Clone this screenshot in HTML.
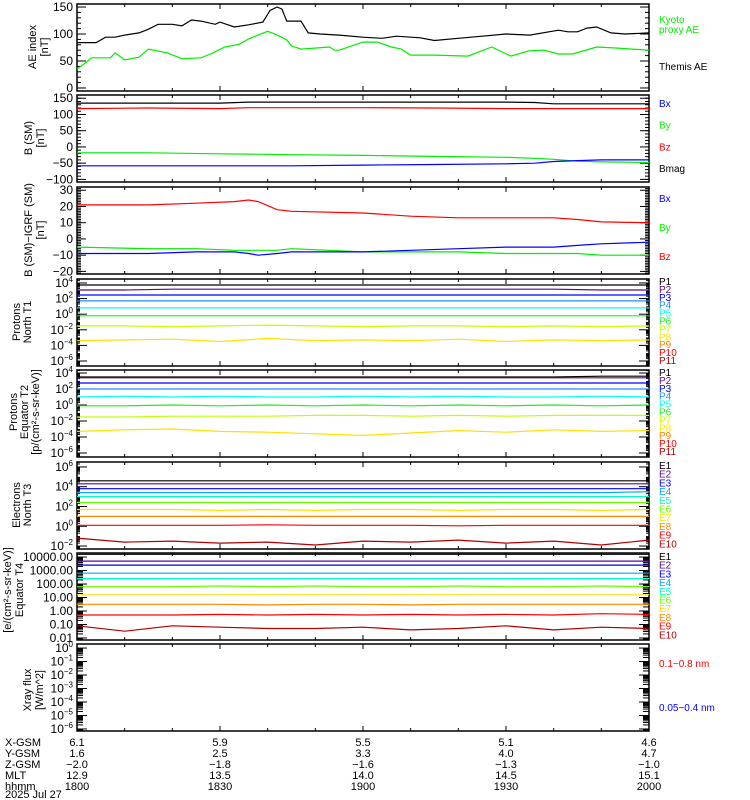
<!DOCTYPE html>
<html><head><meta charset="utf-8"><style>
html,body{margin:0;padding:0;background:#fff;}
svg{display:block;font-family:"Liberation Sans",sans-serif;}
</style></head><body>
<svg id="chart" width="750" height="800" viewBox="0 0 750 800" xmlns="http://www.w3.org/2000/svg"></svg>
<script>
// ---------- DATA ----------
const aeTimes = [0,4,6,8,10,13,15,17,20,22,24,26,29,30,33,36,39,40.5,42,43,44,47,48.5,51,55,60,64,67,72,75,80,85,90,95,101,103,105,107,109,112,115,120];
const themisAE = [84,84,94,94,98,102,109,118,118,115,126,124,118,122,113,117,122,144,150,146,124,124,102,100,98,94,92,96,93,88,92,96,100,98,107,104,104,111,113,102,100,102];
const kyotoTimes = [0,2,3,7,8,10,13,15,19,22,26,28,31,34,36,38,40,42,44,45,47,53,54,55,60,63,66,68,70,75,82,87,91,95,98,101,104,109,113,120];
const kyotoAE = [35,48,56,56,65,52,57,72,65,54,56,63,76,81,91,98,105,98,89,78,72,76,70,70,85,85,76,72,61,61,59,76,59,69,70,63,63,76,74,70];

const bTimes = [0,15,30,36,45,60,75,90,96,100,105,110,120];
const bmag = [135,135,135,138,138,138,138,138,137,133,133,133,133];
const bzSM = [118,120,118,121,121,121,120,118,118,118,118,118,118];
const bySM = [-18,-18,-21,-22,-24,-26,-29,-32,-35,-38,-44,-46,-48];
const bxSM = [-58,-58,-58,-58,-58,-56,-54,-52,-50,-45,-42,-40,-40];

const dbTimes = [0,15,25,33,36,38,42,45,60,70,80,90,100,105,110,120];
const dbz = [21,21,22,23,24,23,18,17,16,14,13,13,13,12,10.5,10];
const dby = [-5,-6,-6,-7,-7,-7,-7,-6,-8,-8,-8,-9,-9,-9,-10,-10];
const dbx = [-9,-9,-8,-8,-9,-10,-9,-8,-8,-7,-6,-5,-5,-4,-3,-2];

const specTimes = [0,10,20,30,40,50,60,70,80,90,100,110,120];
const pN = [
 [3.74,3.74,3.74,3.74,3.74,3.74,3.74,3.74,3.74,3.74,3.74,3.74,3.74],
 [3.1,3.1,3.2,3.2,3.2,3.2,3.2,3.2,3.2,3.2,3.2,3.1,3.1],
 [2.46,2.46,2.46,2.46,2.46,2.46,2.46,2.46,2.46,2.46,2.46,2.46,2.46],
 [1.7,1.7,1.7,1.7,1.7,1.7,1.7,1.7,1.7,1.7,1.7,1.7,1.7],
 [0.8,0.8,0.8,0.8,0.8,0.8,0.8,0.8,0.8,0.8,0.8,0.8,0.8],
 [-0.2,-0.2,-0.2,-0.2,-0.2,-0.2,-0.2,-0.2,-0.2,-0.2,-0.2,-0.2,-0.2],
 [-1.5,-1.5,-1.6,-1.5,-1.4,-1.5,-1.6,-1.5,-1.5,-1.6,-1.5,-1.6,-1.5],
 [-3.4,-3.3,-3.2,-3.5,-3.1,-3.4,-3.3,-3.4,-3.2,-3.5,-3.3,-3.4,-3.3],
 null,null,null];
const pE = [
 [3.5,3.5,3.5,3.5,3.5,3.5,3.5,3.5,3.5,3.5,3.5,3.6,3.6],
 [3.4,3.4,3.4,3.4,3.4,3.4,3.4,3.4,3.4,3.4,3.4,3.4,3.4],
 [2.75,2.75,2.75,2.75,2.75,2.75,2.75,2.75,2.75,2.75,2.75,2.75,2.75],
 [2.0,2.0,2.0,2.0,2.0,2.0,2.0,2.0,2.0,2.0,2.0,2.0,2.0],
 [1.0,1.1,1.0,1.1,1.0,1.0,1.1,1.0,1.1,1.0,1.0,1.1,1.0],
 [-0.1,-0.1,0,-0.1,0,-0.1,0,-0.1,0,-0.1,0,-0.1,0],
 [-1.5,-1.5,-1.4,-1.4,-1.4,-1.3,-1.3,-1.4,-1.3,-1.4,-1.3,-1.3,-1.3],
 [-3.3,-3.1,-3.0,-3.3,-3.4,-3.6,-3.8,-3.5,-3.2,-3.4,-3.1,-3.3,-3.2],
 null,null,null];
const eN = [
 [4.6,4.6,4.6,4.6,4.6,4.6,4.6,4.6,4.6,4.6,4.6,4.6,4.6],
 [4.3,4.3,4.3,4.3,4.3,4.3,4.3,4.3,4.3,4.3,4.3,4.3,4.3],
 [3.8,3.8,3.8,3.8,3.8,3.8,3.8,3.8,3.8,3.8,3.8,3.8,3.8],
 [3.4,3.4,3.4,3.4,3.4,3.4,3.4,3.4,3.4,3.4,3.4,3.4,3.5],
 [3.0,3.0,3.0,3.0,3.0,3.0,3.0,3.0,3.0,3.0,3.0,3.0,3.0],
 [2.4,2.4,2.4,2.4,2.4,2.4,2.4,2.4,2.4,2.4,2.4,2.4,2.4],
 [1.7,1.7,1.7,1.6,1.7,1.6,1.7,1.7,1.6,1.7,1.7,1.6,1.7],
 [1.0,1.0,1.0,1.0,1.0,1.0,1.0,1.0,1.0,1.0,1.0,1.0,1.0],
 [0.1,0.1,0.1,0.1,0.15,0.1,0.1,0.1,0.05,0.1,0.1,0.1,0.1],
 [-1.2,-1.6,-1.5,-1.7,-1.6,-1.9,-1.5,-1.6,-1.4,-1.7,-1.5,-1.9,-1.4]];
const eE = [
 [4.2,4.2,4.2,4.2,4.2,4.2,4.2,4.2,4.2,4.2,4.2,4.2,4.2],
 [3.7,3.7,3.7,3.7,3.7,3.7,3.7,3.7,3.7,3.7,3.7,3.7,3.7],
 [3.4,3.4,3.4,3.4,3.4,3.4,3.4,3.4,3.4,3.4,3.4,3.4,3.4],
 [2.8,2.8,2.8,2.8,2.8,2.8,2.8,2.8,2.8,2.8,2.8,2.8,2.8],
 [2.4,2.4,2.4,2.4,2.4,2.4,2.4,2.4,2.4,2.4,2.4,2.4,2.4],
 [1.8,1.8,1.8,1.85,1.8,1.85,1.8,1.8,1.85,1.8,1.8,1.85,1.8],
 [1.2,1.2,1.2,1.2,1.2,1.2,1.2,1.2,1.2,1.2,1.2,1.2,1.2],
 [0.5,0.5,0.5,0.5,0.45,0.5,0.5,0.45,0.5,0.5,0.5,0.5,0.5],
 [-0.3,-0.3,-0.3,-0.25,-0.3,-0.25,-0.3,-0.25,-0.3,-0.25,-0.3,-0.2,-0.25],
 [-1.1,-1.5,-1.1,-1.2,-1.3,-1.3,-1.2,-1.4,-1.3,-1.1,-1.4,-1.2,-1.3]];

const pColors = ["#000000","#5a0a8c","#0000ff","#1e90ff","#00ffff","#22ee22","#c0ff00","#ffe000","#ff8800","#ff0000","#b00000"];
const eColors = ["#000000","#5a0a8c","#0000ff","#00a8ff","#00ffc0","#66ff00","#ffe000","#ff8800","#ff0000","#b00000"];

const orbitLabels = ["X-GSM","Y-GSM","Z-GSM","MLT","hhmm"];
const orbitValues = [
 ["6.1","5.9","5.5","5.1","4.6"],
 ["1.6","2.5","3.3","4.0","4.7"],
 ["\u22122.0","\u22121.8","\u22121.6","\u22121.3","\u22121.0"],
 ["12.9","13.5","14.0","14.5","15.1"],
 ["1800","1830","1900","1930","2000"]];
const orbitTimes = [0,30,60,90,120];

// ---------- DRAWING ----------
const svg = document.getElementById('chart');
const NS = "http://www.w3.org/2000/svg";
const X0 = 77, X1 = 649;
function xs(t){ return X0 + (X1 - X0) * t / 120; }
function mk(tag, attrs, parent){
  const e = document.createElementNS(NS, tag);
  for (const k in attrs) e.setAttribute(k, attrs[k]);
  (parent || svg).appendChild(e);
  return e;
}
function txt(s, x, y, opts, parent){
  const e = mk('text', Object.assign({x:x, y:y, 'font-size':11, fill:'#000'}, opts||{}), parent);
  e.textContent = s;
  return e;
}
function panel(name, top, h, lo, hi){
  const g = mk('g', {});
  
  
  const ys = v => top + (hi - v) / (hi - lo) * h;
  mk('rect', {x:X0, y:top, width:X1-X0, height:h, fill:'none', stroke:'#000', 'stroke-width':1.5}, g);
  for (let m = 10; m < 120; m += 10){
    const L = (m % 30 === 0) ? 5 : 3;
    mk('line', {x1:xs(m), x2:xs(m), y1:top, y2:top+L, stroke:'#000'}, g);
    mk('line', {x1:xs(m), x2:xs(m), y1:top+h, y2:top+h-L, stroke:'#000'}, g);
  }
  return {g, ys, top, h, lo, hi};
}
function ytick(P, v, len){
  const y = P.ys(v);
  if (y < P.top || y > P.top + P.h) return;
  mk('line', {x1:X0, x2:X0+len, y1:y, y2:y, stroke:'#000'}, P.g);
  mk('line', {x1:X1, x2:X1-len, y1:y, y2:y, stroke:'#000'}, P.g);
}
function series(P, times, vals, color, name){
  const pts = times.map((t,i) => xs(t).toFixed(1) + ',' + P.ys(vals[i]).toFixed(1)).join(' ');
  const pl = mk('polyline', {points:pts, fill:'none', stroke:color, 'stroke-width':1.2}, P.g);
  
  
}
function ylabel(P, val, s, sup){
  const t = txt(s, X0-4, P.ys(val)+4, {'text-anchor':'end', 'font-size':12}, P.g);
  if (sup !== undefined){
    const ts = document.createElementNS(NS,'tspan');
    ts.setAttribute('dy','-5'); ts.setAttribute('font-size','8'); ts.textContent = sup;
    t.appendChild(ts);
  }
}
function vtitle(lines, cx, cy, P, step){
  lines.forEach((s, i) => {
    const x = cx + i * (step || 12);
    const t = txt(s, x, cy, {'text-anchor':'middle', 'font-size':11, transform:'rotate(-90 '+x+' '+cy+')'}, P.g);
    
    
  });
}
function legend(items, y0, dy, P){
  items.forEach((it, i) => {
    const t = txt(it[0], 659, y0 + i*dy + 4, {fill:it[1], 'font-size':10}, P.g);
    
    
  });
}
function linTicks(P, major, minorStep){
  for (let v = Math.ceil(P.lo/minorStep)*minorStep; v <= P.hi; v += minorStep) ytick(P, v, 4);
  major.forEach(v => ytick(P, v, 9));
}
function logTicks(P, majors, dense){
  for (let d = Math.floor(P.lo); d <= Math.ceil(P.hi); d++){
    for (let k = 2; k <= 9; k++) ytick(P, d + Math.log10(k), dense ? 6 : 3);
  }
  majors.forEach(v => ytick(P, v, 10));
}

const p1 = panel('ae-index-panel', 4, 87, -5.6, 155.6);
linTicks(p1, [0,50,100,150], 10);
[0,50,100,150].forEach(v => ylabel(p1, v, String(v)));
series(p1, aeTimes, themisAE, '#000', 'themis-ae-line');
series(p1, kyotoTimes, kyotoAE, '#00ee00', 'kyoto-ae-line');
vtitle(['AE index','[nT]'], 36, 47, p1);
legend([['Kyoto','#00ee00'],['proxy AE','#00ee00']], 19, 10, p1);
legend([['Themis AE','#000']], 66, 0, p1);

const p2 = panel('b-sm-panel', 95, 87, -108, 160);
linTicks(p2, [-100,-50,0,50,100,150], 10);
[-100,-50,0,50,100,150].forEach(v => ylabel(p2, v, String(v).replace('-','\u2212')));
series(p2, bTimes, bmag, '#000', 'bmag-line');
series(p2, bTimes, bzSM, '#ff0000', 'bz-line');
series(p2, bTimes, bySM, '#00ee00', 'by-line');
series(p2, bTimes, bxSM, '#0000ff', 'bx-line');
vtitle(['B (SM)','[nT]'], 32, 138, p2);
legend([['Bx','#0000ff'],['By','#00ee00'],['Bz','#ff0000'],['Bmag','#000']], 103, 21.7, p2);

const p3 = panel('b-minus-igrf-panel', 187, 87, -21.6, 32);
linTicks(p3, [-20,-10,0,10,20,30], 1);
[-20,-10,0,10,20,30].forEach(v => ylabel(p3, v, String(v).replace('-','\u2212')));
series(p3, dbTimes, dbz, '#ff0000', 'dbz-line');
series(p3, dbTimes, dby, '#00ee00', 'dby-line');
series(p3, dbTimes, dbx, '#0000ff', 'dbx-line');
vtitle(['B (SM)\u2212IGRF (SM)','[nT]'], 32, 230, p3);
legend([['Bx','#0000ff'],['By','#00ee00'],['Bz','#ff0000']], 198, 29, p3);

const p4 = panel('protons-north-t1-panel', 279, 87, -6.64, 4.51);
logTicks(p4, [-6,-4,-2,0,2,4], false);
[-6,-4,-2,0,2,4].forEach(v => ylabel(p4, v, '10', String(v).replace('-','\u2212')));
pN.forEach((s,i) => { if (s) series(p4, specTimes, s, pColors[i], 'proton-north-p'+(i+1)); });
vtitle(['Protons','North T1'], 20, 322, p4, 11);
legend(pColors.map((c,i)=>['P'+(i+1), c]), 281, 7.9, p4);

const p5 = panel('protons-equator-t2-panel', 370, 87, -6.5, 4.375);
logTicks(p5, [-6,-4,-2,0,2,4], false);
[-6,-4,-2,0,2,4].forEach(v => ylabel(p5, v, '10', String(v).replace('-','\u2212')));
pE.forEach((s,i) => { if (s) series(p5, specTimes, s, pColors[i], 'proton-equator-p'+(i+1)); });
vtitle(['Protons','Equator T2','[p/(cm\u00b2-s-sr-keV)]'], 17, 412, p5, 11);
legend(pColors.map((c,i)=>['P'+(i+1), c]), 372, 7.9, p5);

const p6 = panel('electrons-north-t3-panel', 462, 87, -2.3, 6.5);
logTicks(p6, [-2,0,2,4,6], false);
[-2,0,2,4,6].forEach(v => ylabel(p6, v, '10', String(v).replace('-','\u2212')));
eN.forEach((s,i) => series(p6, specTimes, s, eColors[i], 'electron-north-e'+(i+1)));
vtitle(['Electrons','North T3'], 20, 505, p6, 11);
legend(eColors.map((c,i)=>['E'+(i+1), c]), 465, 8.7, p6);

const p7 = panel('electrons-equator-t4-panel', 553, 87, -2.15, 4.3);
logTicks(p7, [-2,-1,0,1,2,3,4], true);
['0.01','0.10','1.00','10.00','100.00','1000.00','10000.00'].forEach((s,i) => ylabel(p7, i-2, s));
eE.forEach((s,i) => series(p7, specTimes, s, eColors[i], 'electron-equator-e'+(i+1)));
vtitle(['[e/(cm\u00b2-s-sr-keV)]','Equator T4'], 11, 590, p7);
legend(eColors.map((c,i)=>['E'+(i+1), c]), 556, 8.7, p7);

const p8 = panel('xray-flux-panel', 644, 87, -6.15, 0.3);
logTicks(p8, [-6,-5,-4,-3,-2,-1,0], true);
[-6,-5,-4,-3,-2,-1,0].forEach(v => ylabel(p8, v, '10', String(v).replace('-','\u2212')));
vtitle(['Xray flux','[W/m^2]'], 31, 690, p8);
legend([['0.1\u22120.8 nm','#ff0000']], 663, 0, p8);
legend([['0.05\u22120.4 nm','#0000ff']], 707, 0, p8);

const og = mk('g', {});


orbitLabels.forEach((lab, r) => {
  const y = 746 + r * 11;
  txt(lab, 5, y, {}, og);
  orbitValues[r].forEach((v, c) => txt(v, xs(orbitTimes[c]), y, {'text-anchor':'middle'}, og));
});
const dt = txt('2025 Jul 27', 5, 798, {}, og);


</script>
</body></html>
